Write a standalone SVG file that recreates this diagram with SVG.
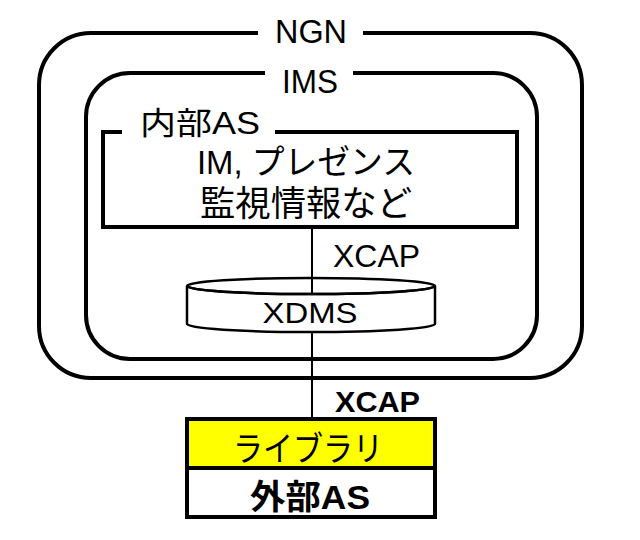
<svg xmlns="http://www.w3.org/2000/svg" width="640" height="540" viewBox="0 0 640 540">
<style>
text{font-family:"Liberation Sans","Noto Sans CJK JP",sans-serif;fill:#000}
.frame{fill:none;stroke:#000;stroke-width:4}
.thin{fill:none;stroke:#000;stroke-width:2.5}
.conn{stroke:#000;stroke-width:2;fill:none}
</style>
<rect width="640" height="540" fill="#fff"/>
<g id="ngn">
<path class="frame" d="M258,33 L91,33 A52,52 0 0 0 39,85 L39,326 A52,52 0 0 0 91,378 L530,378 A52,52 0 0 0 582,326 L582,85 A52,52 0 0 0 530,33 L363,33"/>
<text x="311" y="43" font-size="34" text-anchor="middle" textLength="72" lengthAdjust="spacingAndGlyphs">NGN</text>
</g>
<g id="ims">
<path class="frame" d="M265,73 L130,73 A44,44 0 0 0 86,117 L86,315 A44,44 0 0 0 130,359 L493,359 A44,44 0 0 0 537,315 L537,117 A44,44 0 0 0 493,73 L353,73"/>
<text x="310" y="93" font-size="33" text-anchor="middle" textLength="56" lengthAdjust="spacingAndGlyphs">IMS</text>
</g>
<g id="internal-as">
<path class="frame" d="M122,132 L103,132 L103,227 L517,227 L517,132 L275,132"/>
<text x="140" y="134" font-size="31" textLength="120" lengthAdjust="spacingAndGlyphs">内部AS</text>
<text x="306" y="174" font-size="34" text-anchor="middle" textLength="218" lengthAdjust="spacingAndGlyphs">IM, プレゼンス</text>
<text x="306" y="216" font-size="35" text-anchor="middle" textLength="212" lengthAdjust="spacingAndGlyphs">監視情報など</text>
</g>
<g id="connectors">
<line class="conn" x1="312" y1="227" x2="312" y2="419"/>
<text x="333" y="267" font-size="31" textLength="87" lengthAdjust="spacingAndGlyphs">XCAP</text>
<text x="335" y="412" font-size="30" font-weight="bold" textLength="85" lengthAdjust="spacingAndGlyphs">XCAP</text>
</g>
<g id="xdms">
<path d="M187,286 L187,324 A124,8 0 0 0 435,324 L435,286 A124,8 0 0 1 187,286 Z" fill="#fff" stroke="#000" stroke-width="2.5"/>
<ellipse class="thin" cx="311" cy="286" rx="124" ry="8"/>
<text x="310" y="323" font-size="30" text-anchor="middle" textLength="95" lengthAdjust="spacingAndGlyphs">XDMS</text>
</g>
<g id="external-as">
<rect x="187" y="419" width="248" height="49" fill="#ffff00" stroke="#000" stroke-width="4"/>
<rect x="187" y="468" width="248" height="49" fill="#fff" stroke="#000" stroke-width="4"/>
<text x="308" y="461" font-size="34" text-anchor="middle" textLength="150" lengthAdjust="spacingAndGlyphs">ライブラリ</text>
<text x="310" y="509" font-size="34" font-weight="bold" text-anchor="middle" textLength="120" lengthAdjust="spacingAndGlyphs">外部AS</text>
</g>
</svg>
